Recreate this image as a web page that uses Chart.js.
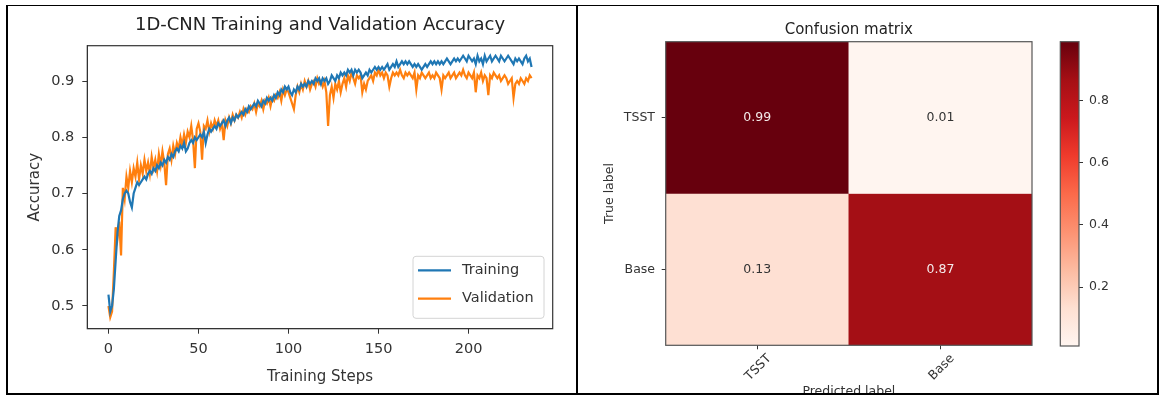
<!DOCTYPE html>
<html><head><meta charset="utf-8">
<script src="https://cdn.jsdelivr.net/npm/chart.js@4.4.0/dist/chart.umd.min.js"></script>
<style>
html,body{margin:0;padding:0;background:#fff;width:1163px;height:396px;overflow:hidden;position:relative}
canvas{position:absolute}
.ln{position:absolute;background:#000;z-index:5}
</style></head><body>
<canvas id="acc" style="left:0;top:0" width="577" height="396"></canvas>
<canvas id="hm" style="left:580px;top:0" width="470" height="396"></canvas>
<canvas id="cb" style="left:1050px;top:0" width="110" height="396"></canvas>
<div class="ln" style="left:6px;top:5px;width:1153px;height:1px"></div>
<div class="ln" style="left:6px;top:393px;width:1153px;height:2px"></div>
<div class="ln" style="left:6px;top:5px;width:2px;height:390px"></div>
<div class="ln" style="left:576px;top:5px;width:2px;height:390px"></div>
<div class="ln" style="left:1157px;top:5px;width:2px;height:390px"></div>
<script>
// ---------- Left chart data ----------
const trainAcc = [
0.52,0.49,0.50,0.53,0.58,0.63,0.66,0.67,0.69,0.70,
0.705,0.70,0.685,0.675,0.70,0.71,0.72,0.715,0.72,0.725,
0.73,0.725,0.735,0.74,0.735,0.745,0.74,0.75,0.745,0.755,
0.75,0.76,0.755,0.765,0.76,0.77,0.765,0.775,0.78,0.775,
0.785,0.78,0.79,0.775,0.78,0.79,0.795,0.79,0.80,0.795,
0.80,0.805,0.80,0.81,0.79,0.805,0.815,0.81,0.815,0.82,
0.815,0.825,0.82,0.825,0.83,0.82,0.83,0.835,0.825,0.835,
0.83,0.84,0.835,0.84,0.845,0.84,0.85,0.845,0.855,0.85,
0.855,0.86,0.855,0.865,0.86,0.855,0.865,0.86,0.87,0.865,
0.87,0.865,0.875,0.87,0.88,0.875,0.885,0.88,0.89,0.885,
0.89,0.88,0.875,0.885,0.88,0.89,0.885,0.895,0.89,0.895,
0.89,0.90,0.895,0.90,0.895,0.905,0.90,0.905,0.895,0.905,
0.90,0.905,0.895,0.90,0.91,0.905,0.90,0.91,0.905,0.915,
0.91,0.915,0.91,0.92,0.915,0.92,0.91,0.92,0.915,0.92,
0.915,0.905,0.91,0.915,0.91,0.92,0.915,0.92,0.925,0.92,
0.925,0.92,0.925,0.92,0.925,0.93,0.92,0.925,0.93,0.925,
0.935,0.925,0.93,0.935,0.93,0.935,0.93,0.935,0.93,0.925,
0.93,0.925,0.93,0.925,0.92,0.925,0.93,0.925,0.93,0.935,
0.93,0.935,0.93,0.935,0.93,0.935,0.93,0.935,0.94,0.935,
0.93,0.935,0.94,0.935,0.94,0.935,0.94,0.945,0.94,0.935,
0.945,0.94,0.935,0.94,0.93,0.945,0.935,0.94,0.93,0.945,
0.935,0.94,0.945,0.935,0.94,0.945,0.94,0.935,0.945,0.94,
0.935,0.94,0.945,0.94,0.935,0.93,0.94,0.935,0.94,0.935,
0.93,0.94,0.945,0.935,0.94,0.925
];
const valAcc = [
0.50,0.48,0.49,0.56,0.64,0.62,0.65,0.59,0.71,0.69,
0.73,0.71,0.74,0.72,0.745,0.73,0.755,0.725,0.75,0.735,
0.76,0.74,0.755,0.735,0.765,0.745,0.76,0.74,0.77,0.75,
0.775,0.755,0.715,0.77,0.78,0.76,0.785,0.77,0.79,0.78,
0.80,0.785,0.805,0.79,0.81,0.80,0.82,0.795,0.745,0.815,
0.825,0.81,0.76,0.82,0.815,0.83,0.81,0.825,0.815,0.83,
0.82,0.83,0.815,0.825,0.795,0.83,0.82,0.835,0.825,0.84,
0.83,0.84,0.835,0.845,0.835,0.85,0.84,0.85,0.845,0.855,
0.85,0.86,0.845,0.86,0.855,0.865,0.85,0.865,0.86,0.87,
0.855,0.87,0.865,0.875,0.87,0.88,0.865,0.885,0.875,0.885,
0.88,0.87,0.86,0.85,0.875,0.89,0.88,0.895,0.885,0.90,
0.89,0.90,0.885,0.895,0.90,0.89,0.905,0.895,0.90,0.89,
0.90,0.88,0.82,0.875,0.89,0.87,0.895,0.885,0.90,0.88,
0.895,0.905,0.89,0.91,0.90,0.915,0.905,0.895,0.91,0.905,
0.91,0.88,0.895,0.885,0.90,0.905,0.91,0.90,0.915,0.91,
0.92,0.91,0.915,0.905,0.915,0.91,0.89,0.905,0.915,0.91,
0.915,0.91,0.92,0.91,0.905,0.915,0.91,0.915,0.91,0.905,
0.915,0.885,0.91,0.905,0.915,0.91,0.905,0.91,0.915,0.905,
0.91,0.905,0.915,0.91,0.905,0.885,0.91,0.905,0.91,0.915,
0.905,0.91,0.915,0.905,0.91,0.915,0.91,0.92,0.91,0.905,
0.915,0.91,0.905,0.915,0.88,0.91,0.905,0.915,0.90,0.91,
0.905,0.875,0.91,0.905,0.915,0.91,0.905,0.91,0.90,0.905,
0.91,0.905,0.895,0.90,0.905,0.87,0.895,0.90,0.895,0.905,
0.90,0.895,0.905,0.90,0.91,0.905
];
const accXTicks = [0, 50, 100, 150, 200];
const accYTicks = [0.5, 0.6, 0.7, 0.8, 0.9];

// ---------- Confusion matrix data ----------
const classes = ['TSST', 'Base'];
const cmRowTSST = [0.99, 0.01];
const cmRowBase = [0.13, 0.87];
const cbTicks = [0.2, 0.4, 0.6, 0.8];

const REDS = ['#fff5f0','#fee0d2','#fcbba1','#fc9272','#fb6a4a','#ef3b2c','#cb181d','#a50f15','#67000d'];
const cmRows = [cmRowTSST, cmRowBase];
const vMin = Math.min(...cmRowTSST, ...cmRowBase);
const vMax = Math.max(...cmRowTSST, ...cmRowBase);

function hex2rgb(h){return [1,3,5].map(i=>parseInt(h.substr(i,2),16));}
function reds(v){
  let t = (v - vMin) / (vMax - vMin); t = Math.max(0, Math.min(1, t));
  const s = t * (REDS.length - 1); const i = Math.min(Math.floor(s), REDS.length - 2); const f = s - i;
  const a = hex2rgb(REDS[i]), b = hex2rgb(REDS[i+1]);
  return 'rgb(' + a.map((c,k)=>Math.round(c + (b[k]-c)*f)).join(',') + ')';
}

Chart.defaults.font.family = "'DejaVu Sans', sans-serif";
Chart.defaults.color = '#333';

const framePlugin = {
  id: 'frame',
  afterDatasetsDraw(chart, args, opts) {
    const {ctx, chartArea: a} = chart;
    ctx.save();
    ctx.strokeStyle = opts.color || '#333';
    ctx.lineWidth = opts.width || 1;
    ctx.strokeRect(a.left, a.top, a.right - a.left, a.bottom - a.top);
    ctx.restore();
  }
};

const accLegend = {
  id: 'accLegend',
  afterDraw(chart) {
    const {ctx, chartArea: a} = chart;
    const w = 131, h = 62;
    const x = a.right - 8.7 - w, y = a.bottom - 10.4 - h;
    ctx.save();
    ctx.beginPath();
    ctx.roundRect(x, y, w, h, 3);
    ctx.fillStyle = 'rgba(255,255,255,0.8)'; ctx.fill();
    ctx.strokeStyle = '#d4d4d4'; ctx.lineWidth = 1; ctx.stroke();
    chart.data.datasets.forEach((ds, i) => {
      const ly = y + 14 + i * 28.3;
      ctx.strokeStyle = ds.borderColor; ctx.lineWidth = 2.3;
      ctx.beginPath(); ctx.moveTo(x + 5, ly); ctx.lineTo(x + 38, ly); ctx.stroke();
      ctx.fillStyle = '#333'; ctx.font = "14.5px 'DejaVu Sans'"; ctx.textBaseline = 'middle'; ctx.textAlign = 'left';
      ctx.fillText(ds.label, x + 49, ly);
    });
    ctx.restore();
  }
};

const accFont = {size: 14.5};
new Chart(document.getElementById('acc'), {
  type: 'line',
  data: {
    datasets: [
      {label: 'Training', data: trainAcc.map((v, i) => ({x: i, y: v})), borderColor: '#1f77b4', borderWidth: 2.2, pointRadius: 0, tension: 0},
      {label: 'Validation', data: valAcc.map((v, i) => ({x: i, y: v})), borderColor: '#ff7f0e', borderWidth: 2.2, pointRadius: 0, tension: 0}
    ]
  },
  options: {
    responsive: false, animation: false, events: [],
    layout: {padding: {left: 26, right: 24.3, top: 0, bottom: 10}},
    plugins: {
      legend: {display: false}, tooltip: {enabled: false},
      title: {display: true, fullSize: false, text: '1D-CNN Training and Validation Accuracy', color: '#222',
              font: {size: 18, weight: 'normal'}, padding: {top: 14.2, bottom: 9.9}},
      frame: {color: '#333', width: 1.2}
    },
    scales: {
      x: {
        type: 'linear', min: -11.75, max: 246.75,
        afterBuildTicks: s => { s.ticks = accXTicks.map(v => ({value: v})); },
        afterFit: s => { s.height = 57.3; },
        grid: {drawOnChartArea: false, tickLength: 5, color: '#333'},
        border: {color: '#333'},
        ticks: {font: accFont, color: '#333', padding: 7, maxRotation: 0},
        title: {display: true, text: 'Training Steps', font: {size: 15}, color: '#333', padding: 0}
      },
      y: {
        type: 'linear', min: 0.4596, max: 0.9628,
        afterBuildTicks: s => { s.ticks = accYTicks.map(v => ({value: v})); },
        afterFit: s => { s.width = 61.3; },
        grid: {drawOnChartArea: false, tickLength: 5, color: '#333'},
        border: {color: '#333'},
        ticks: {font: accFont, color: '#333', padding: 8, callback: v => v.toFixed(1)},
        title: {display: true, text: 'Accuracy', font: {size: 15}, color: '#333', padding: 0}
      }
    }
  },
  plugins: [framePlugin, accLegend]
});

// ---------- Heatmap ----------
const cellText = {
  id: 'cellText',
  afterDatasetsDraw(chart) {
    const {ctx} = chart;
    ctx.save();
    ctx.font = "12.5px 'DejaVu Sans'"; ctx.textAlign = 'center'; ctx.textBaseline = 'middle';
    const thresh = vMax / 2;
    chart.data.datasets.forEach((ds, d) => {
      chart.getDatasetMeta(d).data.forEach((bar, j) => {
        const v = cmRows[d][j];
        ctx.fillStyle = v > thresh ? '#f4eaea' : '#333';
        ctx.fillText(v.toFixed(2), bar.x, (bar.y + bar.base) / 2);
      });
    });
    ctx.restore();
  }
};

const hmFont = {size: 12.5};
new Chart(document.getElementById('hm'), {
  type: 'bar',
  data: {
    labels: classes,
    datasets: cmRows.map((row, d) => ({
      label: classes[d],
      data: row.map(() => 1),
      backgroundColor: row.map(reds),
      borderWidth: 0, barPercentage: 1, categoryPercentage: 1
    }))
  },
  options: {
    responsive: false, animation: false, events: [],
    layout: {padding: {left: 22, right: 18, top: 0, bottom: 0}},
    plugins: {
      legend: {display: false}, tooltip: {enabled: false},
      title: {display: true, fullSize: false, text: 'Confusion matrix', color: '#222', font: {size: 15, weight: 'normal'}, padding: {top: 21, bottom: 2.7}},
      frame: {color: '#555', width: 1.2}
    },
    scales: {
      x: {
        stacked: true,
        afterFit: s => { s.height = 50.7; },
        grid: {drawOnChartArea: false, offset: false, tickLength: 4, color: '#333'},
        border: {display: false},
        ticks: {font: hmFont, color: '#333', maxRotation: 45, minRotation: 45, padding: 2, labelOffset: 12},
        title: {display: true, text: 'Predicted label', font: hmFont, color: '#333', padding: {top: 0, bottom: -3}}
      },
      y: {
        stacked: true, min: 0, max: 2, reverse: true,
        afterBuildTicks: s => { s.ticks = classes.map((c, i) => ({value: i + 0.5})); },
        afterFit: s => { s.width = 63.7; },
        grid: {drawOnChartArea: false, tickLength: 4, color: '#333'},
        border: {display: false},
        ticks: {font: hmFont, color: '#333', padding: 6.7, callback: (v, i) => classes[i]},
        title: {display: true, text: 'True label', font: hmFont, color: '#333', padding: 0}
      }
    }
  },
  plugins: [framePlugin, cellText]
});

// ---------- Colorbar ----------
new Chart(document.getElementById('cb'), {
  type: 'bar',
  data: {
    labels: [''],
    datasets: [{
      data: [[vMin, vMax]],
      backgroundColor: (c) => {
        const chart = c.chart; const {ctx, chartArea} = chart;
        if (!chartArea) return REDS[4];
        const y = chart.scales.y;
        const g = ctx.createLinearGradient(0, y.getPixelForValue(vMin), 0, y.getPixelForValue(vMax));
        REDS.forEach((col, i) => g.addColorStop(i / (REDS.length - 1), col));
        return g;
      },
      borderWidth: 0, barPercentage: 1, categoryPercentage: 1
    }]
  },
  options: {
    responsive: false, animation: false, events: [],
    layout: {padding: {left: 10.3, right: 31, top: 41.7, bottom: 50}},
    plugins: {legend: {display: false}, tooltip: {enabled: false}, frame: {color: '#555', width: 1.2}},
    scales: {
      x: {display: false},
      y: {
        position: 'right', min: vMin, max: vMax,
        afterBuildTicks: s => { s.ticks = cbTicks.map(v => ({value: v})); },
        afterFit: s => { s.width = 50; },
        grid: {drawOnChartArea: false, tickLength: 4, color: '#333'},
        border: {display: false},
        ticks: {font: hmFont, color: '#333', padding: 6, callback: v => v.toFixed(1)}
      }
    }
  },
  plugins: [framePlugin]
});
</script>
</body></html>
